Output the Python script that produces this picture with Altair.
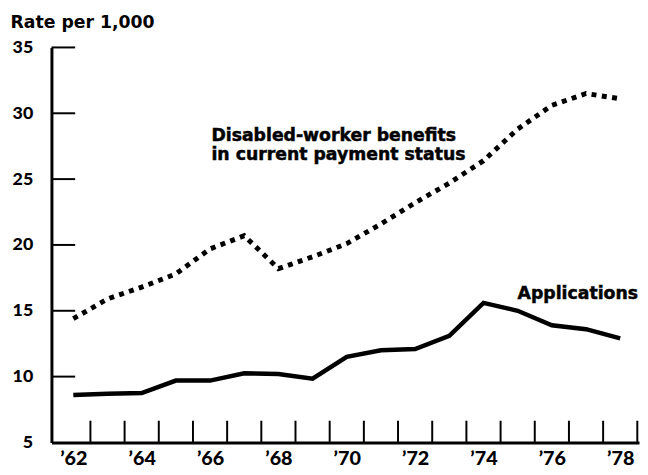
import altair as alt
import pandas as pd

# ---- data ----
years = list(range(1962, 1979))
applications = [8.6, 8.7, 8.75, 9.7, 9.7, 10.25, 10.2, 9.85, 11.5, 12.0, 12.1, 13.1, 15.6, 15.0, 13.9, 13.6, 12.9]
benefits = [14.4, 15.9, 16.8, 17.8, 19.7, 20.7, 18.2, 19.1, 20.1, 21.6, 23.2, 24.7, 26.4, 28.8, 30.6, 31.5, 31.1]

x_tick_years = [y + 0.5 for y in range(1962, 1979)]
x_label_years = list(range(1962, 1979, 2))
x_labels = ["’62", "’64", "’66", "’68", "’70", "’72", "’74", "’76", "’78"]
y_tick_values = [5, 10, 15, 20, 25, 30, 35]
y_inner_ticks = [10, 15, 20, 25, 30, 35]

df = pd.DataFrame({"year": years, "applications": applications, "benefits": benefits})
xt = pd.DataFrame({"t": x_tick_years})
yt = pd.DataFrame({"v": y_inner_ticks})

W, H = 595, 400
xscale = alt.Scale(domain=[1961.36, 1978.55], nice=False, zero=False)
yscale = alt.Scale(domain=[5, 35], nice=False, zero=False)

label_expr = "[" + ",".join(f"'{l}'" for l in x_labels) + "][round((datum.value - 1962) / 2)]"

x_axis = alt.Axis(values=x_label_years, labelExpr=label_expr, ticks=False, tickSize=0,
                  domain=True, domainWidth=3, domainColor="black", grid=False,
                  labelFont="Lato", labelFontWeight=900, labelFontSize=20,
                  labelPadding=6, labelColor="black", title=None,
                  labelFlush=False, labelOverlap=False)
y_axis = alt.Axis(values=y_tick_values, ticks=False, tickSize=0, labelPadding=19,
                  domain=True, domainWidth=3, domainColor="black", grid=False,
                  title="Rate per 1,000", titleAngle=0, titleX=-42, titleY=-20,
                  titleAlign="left", titleBaseline="alphabetic",
                  titleFont="DejaVu Sans", titleFontSize=17.5, titleFontWeight="bold",
                  titleColor="black",
                  labelFont="Lato", labelFontSize=18, labelFontWeight=900,
                  labelColor="black", labelFlush=False, labelOverlap=False)

apps = alt.Chart(df).mark_line(color="black", strokeWidth=4.5).encode(
    x=alt.X("year:Q", scale=xscale, axis=x_axis),
    y=alt.Y("applications:Q", scale=yscale, axis=y_axis),
)

ben = alt.Chart(df).mark_line(color="black", strokeWidth=5, strokeDash=[5, 5.5], strokeCap="butt").encode(
    x=alt.X("year:Q", scale=xscale, axis=x_axis),
    y=alt.Y("benefits:Q", scale=yscale, axis=y_axis),
)

xticks = alt.Chart(xt).mark_rule(color="black", strokeWidth=2).encode(
    x=alt.X("t:Q", scale=xscale, axis=x_axis),
    y=alt.value(H),
    y2=alt.value(H - 22),
)

yticks = alt.Chart(yt).mark_rule(color="black", strokeWidth=2).encode(
    y=alt.Y("v:Q", scale=yscale, axis=y_axis),
    x=alt.value(0),
    x2=alt.value(24),
)

apps_label = alt.Chart(pd.DataFrame({"t": ["Applications"]})).mark_text(
    align="right", baseline="alphabetic", font="DejaVu Sans", fontWeight="bold",
    fontSize=17.5, color="black", stroke="black", strokeWidth=0.5
).encode(x=alt.value(594), y=alt.value(255), text="t:N")

ben_label = alt.Chart(pd.DataFrame({"t": ["x"]})).mark_text(
    align="left", baseline="alphabetic", font="DejaVu Sans", fontWeight="bold",
    fontSize=17.5, color="black", lineHeight=19, stroke="black", strokeWidth=0.5
).encode(x=alt.value(162), y=alt.value(95),
         text=alt.value(["Disabled-worker benefits", "in current payment status"]))

chart = alt.layer(apps, ben, yticks, xticks, apps_label, ben_label).properties(
    width=W, height=H,
    autosize=alt.AutoSizeParams(type="none"),
    padding={"left": 44, "top": 37, "right": 1, "bottom": 28},
    background="white",
).configure_view(stroke=None)

chart.save("out.html", embed_options={"renderer": "svg", "actions": False})
